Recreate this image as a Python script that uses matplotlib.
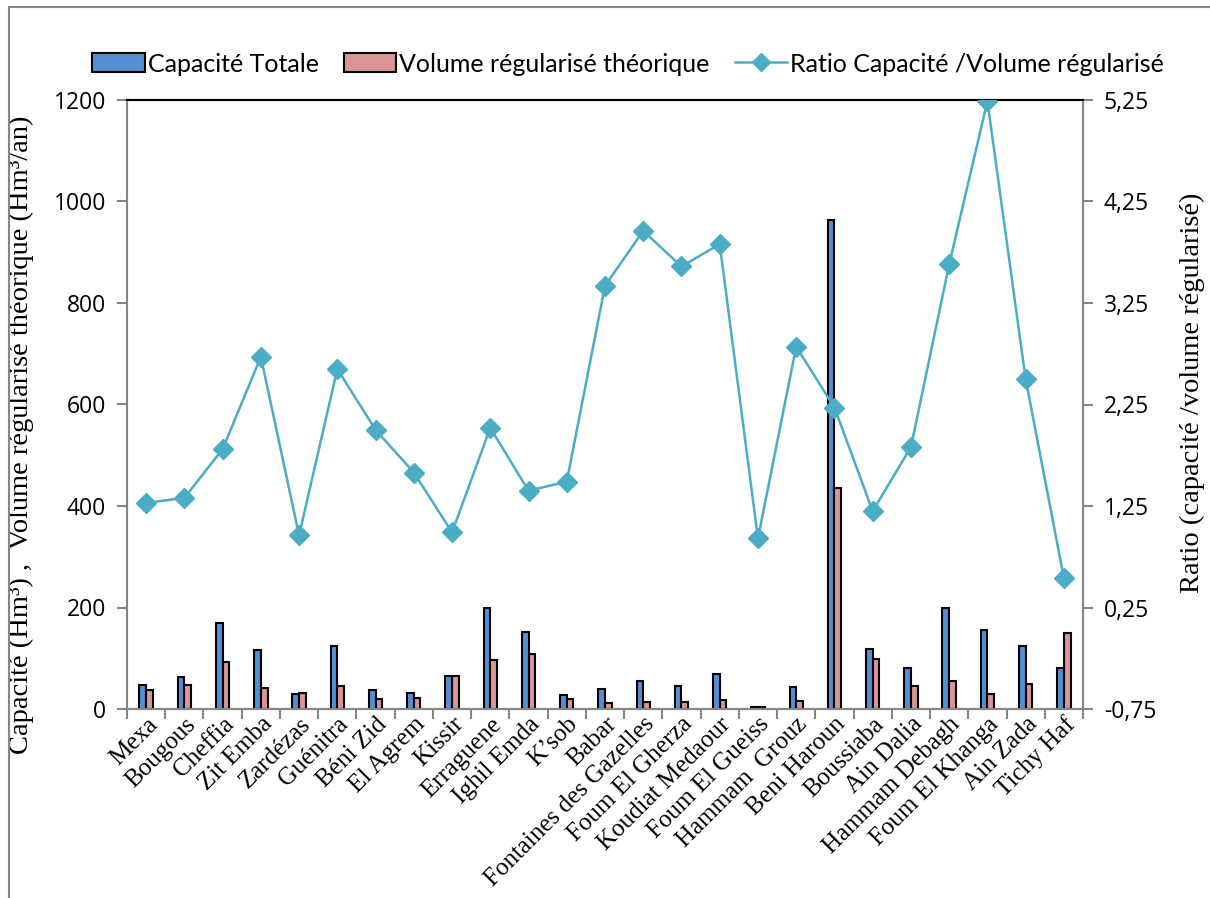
import matplotlib
matplotlib.use("Agg")
import matplotlib.pyplot as plt
from matplotlib.lines import Line2D
from matplotlib.patches import Patch
import numpy as np

categories = ["Mexa", "Bougous", "Cheffia", "Zit Emba", "Zardézas", "Guénitra",
              "Béni Zid", "El Agrem", "Kissir", "Erraguene", "Ighil Emda", "K’sob",
              "Babar", "Fontaines des Gazelles", "Foum El Gherza", "Koudiat Medaour",
              "Foum El Gueiss", "Hammam  Grouz", "Beni Haroun", "Boussiaba",
              "Ain Dalia", "Hammam Debagh", "Foum El Khanga", "Ain Zada", "Tichy Haf"]
capacite = [47, 64, 170, 116, 29, 124, 38, 32, 66, 200, 152, 28, 40, 55, 46, 68,
            4, 44, 963, 119, 81, 200, 156, 125, 80]
volume = [37, 48, 93, 42, 31, 46, 20, 21, 66, 97, 108, 20, 12, 14, 13, 18,
          3, 15, 435, 99, 45, 55, 29, 49, 150]
ratio = [1.28, 1.33, 1.81, 2.72, 0.96, 2.60, 2.00, 1.58, 0.99, 2.02, 1.40, 1.49,
         3.42, 3.96, 3.61, 3.83, 0.93, 2.82, 2.22, 1.20, 1.83, 3.63, 5.24, 2.50, 0.54]
left_ticks = [0, 200, 400, 600, 800, 1000, 1200]
right_ticks = [-0.75, 0.25, 1.25, 2.25, 3.25, 4.25, 5.25]

blue = "#558ED5"
pink = "#D99694"
aqua = "#4BACC6"
grey = "#868686"

fig = plt.figure(figsize=(12.10, 8.98), dpi=100)
ax = fig.add_axes([127/1210, 1 - 709/898, (1083-127)/1210, (709-100)/898])

x = np.arange(len(categories))
w = 0.175
ax.bar(x - w/2, capacite, w, color=blue, edgecolor="black", linewidth=1.5, zorder=2)
ax.bar(x + w/2, volume, w, color=pink, edgecolor="black", linewidth=1.5, zorder=2)
ax.set_xlim(-0.5, len(categories) - 0.5)
ax.set_ylim(0, 1200)
ax.set_yticks(left_ticks)
ax.set_yticklabels([str(t) for t in left_ticks], fontsize=16.5, family="Open Sans")
ax.set_xticks(x)
ax.set_xticklabels(categories, rotation=45, ha="right", rotation_mode="anchor",
                   fontsize=18, family="Liberation Serif")
ax.tick_params(axis="x", which="major", length=0, pad=3)
ax.set_xticks(np.arange(-0.5, len(categories), 1), minor=True)
ax.tick_params(axis="x", which="minor", length=7, color=grey, width=1.5)
ax.tick_params(axis="y", length=7, color=grey, width=1.5, pad=8)
for s in ["left", "bottom", "right"]:
    ax.spines[s].set_color(grey)
    ax.spines[s].set_linewidth(1.5)
ax.spines["top"].set_color("black")
ax.spines["top"].set_linewidth(1.5)
ax.set_ylabel("Capacité (Hm³) ,  Volume régularisé théorique (Hm³/an)",
              fontsize=20.5, family="Liberation Serif")
ax.yaxis.set_label_coords(-0.097, 0.45)

ax2 = ax.twinx()
ax2.plot(x, ratio, color=aqua, linewidth=1.8, marker="D", markersize=10,
         markerfacecolor=aqua, markeredgecolor=aqua, zorder=3)
ax2.set_ylim(-0.75, 5.25)
ax2.set_yticks(right_ticks)
ax2.set_yticklabels([f"{t:.2f}".replace(".", ",") for t in right_ticks],
                    fontsize=16.5, family="Open Sans")
ax2.tick_params(axis="y", length=7, color=grey, width=1.5, pad=8)
for s in ["left", "bottom", "right"]:
    ax2.spines[s].set_color(grey)
    ax2.spines[s].set_linewidth(1.5)
ax2.spines["top"].set_color("black")
ax2.spines["top"].set_linewidth(1.5)
ax2.set_ylabel("Ratio (capacité /volume régularisé)", fontsize=20.5,
               family="Liberation Serif")
ax2.yaxis.set_label_coords(1.101, 0.52)

handles = [Patch(facecolor=blue, edgecolor="black", linewidth=1.5),
           Patch(facecolor=pink, edgecolor="black", linewidth=1.5),
           Line2D([0], [0], color=aqua, linewidth=1.8, marker="D", markersize=9)]
labels = ["Capacité Totale", "Volume régularisé théorique",
          "Ratio Capacité /Volume régularisé"]
fig.legend(handles, labels, loc="center", bbox_to_anchor=(628/1210, 1 - 64/898),
           ncol=3, frameon=False, prop={"family": "Lato", "size": 18},
           handlelength=2.1, handleheight=0.8, handletextpad=0.12, columnspacing=1.0)

# outer chart border
fig.add_artist(Line2D([9/1210, 1], [1 - 7/898, 1 - 7/898], color=grey, linewidth=1.5,
                      transform=fig.transFigure))
fig.add_artist(Line2D([9/1210, 9/1210], [0, 1 - 7/898], color=grey, linewidth=1.5,
                      transform=fig.transFigure))

fig.savefig("out.png", dpi=100)
